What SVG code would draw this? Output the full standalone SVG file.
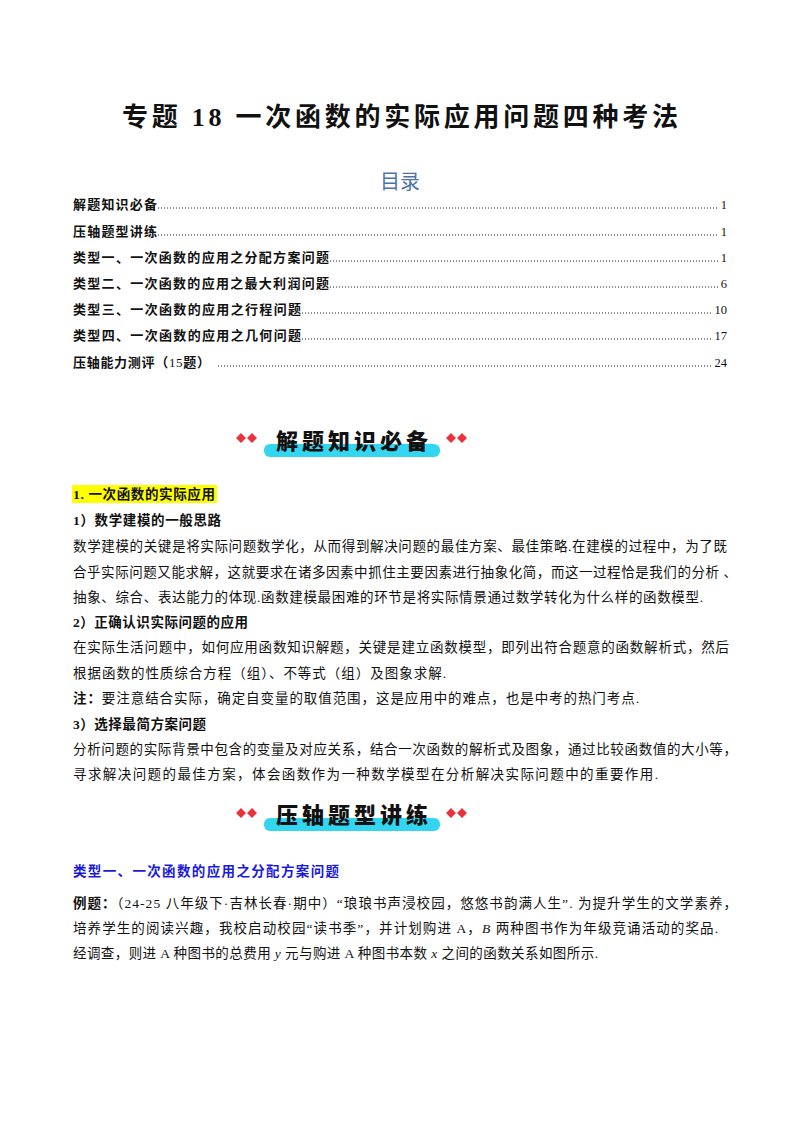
<svg xmlns="http://www.w3.org/2000/svg" width="800" height="1132" viewBox="0 0 800 1132">
<style>
text{font-family:"Liberation Serif","Noto Sans CJK SC",serif;fill:#111}
.b{font-weight:bold}
.toc{font-size:13px;font-weight:bold}
.pg{font-size:12.5px;text-anchor:end}
.dots{stroke:#222;stroke-width:1;stroke-dasharray:1 2}
.body{font-size:13.5px}
.h{font-size:13.5px;font-weight:bold}
.ban{font-family:"Noto Sans CJK SC",sans-serif;font-size:22px;font-weight:900}
.dia{fill:#e8323c}
.bar{fill:#33d6f0}
</style>
<rect width="800" height="1132" fill="#fff"/>
<g id="title"><text x="400" y="126" text-anchor="middle" class="b" font-size="26" textLength="556">专题 18  一次函数的实际应用问题四种考法</text></g>
<g id="toc">
<text x="400" y="189" text-anchor="middle" font-size="20" style="fill:#4f72a8">目录</text>
<g class="toc">
<text x="73" y="209" textLength="84">解题知识必备</text>
<text x="73" y="236" textLength="84">压轴题型讲练</text>
<text x="73" y="262" textLength="256">类型一、一次函数的应用之分配方案问题</text>
<text x="73" y="288" textLength="256">类型二、一次函数的应用之最大利润问题</text>
<text x="73" y="314" textLength="228">类型三、一次函数的应用之行程问题</text>
<text x="73" y="340" textLength="228">类型四、一次函数的应用之几何问题</text>
<text x="73" y="367" textLength="137">压轴能力测评（<tspan font-weight="normal">15</tspan>题）</text>
</g>
<g class="dots">
<line x1="158" y1="208" x2="719" y2="208"/>
<line x1="158" y1="235" x2="719" y2="235"/>
<line x1="330" y1="261" x2="719" y2="261"/>
<line x1="330" y1="287" x2="719" y2="287"/>
<line x1="302" y1="313" x2="712" y2="313"/>
<line x1="302" y1="339" x2="712" y2="339"/>
<line x1="218" y1="366" x2="712" y2="366"/>
</g>
<text class="pg" x="727" y="209">1</text>
<text class="pg" x="727" y="236">1</text>
<text class="pg" x="727" y="262">1</text>
<text class="pg" x="727" y="288">6</text>
<text class="pg" x="727" y="314">10</text>
<text class="pg" x="727" y="340">17</text>
<text class="pg" x="727" y="367">24</text>
</g>
<g id="banner1">
<rect class="bar" x="264" y="444" width="176" height="13" rx="6"/>
<path class="dia" d="M236 438l5-5 5 5-5 5zM247 438l5-5 5 5-5 5zM446 438l5-5 5 5-5 5zM457 438l5-5 5 5-5 5z"/>
<text class="ban" x="352" y="449" text-anchor="middle" textLength="152">解题知识必备</text>
</g>
<g id="section1">
<rect x="72" y="485" width="145" height="18" fill="#ffff00"/>
<text class="h" x="73" y="499" textLength="142">1. 一次函数的实际应用</text>
<text class="h" x="73" y="525" textLength="148">1）数学建模的一般思路</text>
<text class="body" x="73" y="551" textLength="654">数学建模的关键是将实际问题数学化，从而得到解决问题的最佳方案、最佳策略.在建模的过程中，为了既</text>
<text class="body" x="73" y="577" textLength="664">合乎实际问题又能求解，这就要求在诸多因素中抓住主要因素进行抽象化简，而这一过程恰是我们的分析 、</text>
<text class="body" x="73" y="602" textLength="630">抽象、综合、表达能力的体现.函数建模最困难的环节是将实际情景通过数学转化为什么样的函数模型.</text>
<text class="h" x="73" y="627" textLength="175">2）正确认识实际问题的应用</text>
<text class="body" x="73" y="652" textLength="656">在实际生活问题中，如何应用函数知识解题，关键是建立函数模型，即列出符合题意的函数解析式，然后</text>
<text class="body" x="73" y="678" textLength="373">根据函数的性质综合方程（组）、不等式（组）及图象求解.</text>
<text class="body" x="73" y="703" textLength="566"><tspan font-weight="bold">注：</tspan>要注意结合实际，确定自变量的取值范围，这是应用中的难点，也是中考的热门考点.</text>
<text class="h" x="73" y="729" textLength="133">3）选择最简方案问题</text>
<text class="body" x="73" y="754" textLength="664">分析问题的实际背景中包含的变量及对应关系，结合一次函数的解析式及图象，通过比较函数值的大小等，</text>
<text class="body" x="73" y="779" textLength="585">寻求解决问题的最佳方案，体会函数作为一种数学模型在分析解决实际问题中的重要作用.</text>
</g>
<g id="banner2">
<rect class="bar" x="264" y="818" width="176" height="13" rx="6"/>
<path class="dia" d="M236 813l5-5 5 5-5 5zM247 813l5-5 5 5-5 5zM446 813l5-5 5 5-5 5zM457 813l5-5 5 5-5 5z"/>
<text class="ban" x="352" y="823" text-anchor="middle" textLength="152">压轴题型讲练</text>
</g>
<g id="section2">
<text class="h" x="73" y="876" style="fill:#1a1adc" textLength="266">类型一、一次函数的应用之分配方案问题</text>
<text class="body" x="73" y="908" textLength="664"><tspan font-weight="bold">例题：</tspan>（24-25 八年级下·吉林长春·期中）“琅琅书声浸校园，悠悠书韵满人生”. 为提升学生的文学素养，</text>
<text class="body" x="73" y="933" textLength="645">培养学生的阅读兴趣，我校启动校园“读书季”，并计划购进 A，<tspan font-style="italic">B</tspan> 两种图书作为年级竞诵活动的奖品.</text>
<text class="body" x="73" y="958" textLength="525">经调查，则进 A 种图书的总费用 <tspan font-style="italic">y</tspan> 元与购进 A 种图书本数 <tspan font-style="italic">x</tspan> 之间的函数关系如图所示.</text>
</g>
</svg>
